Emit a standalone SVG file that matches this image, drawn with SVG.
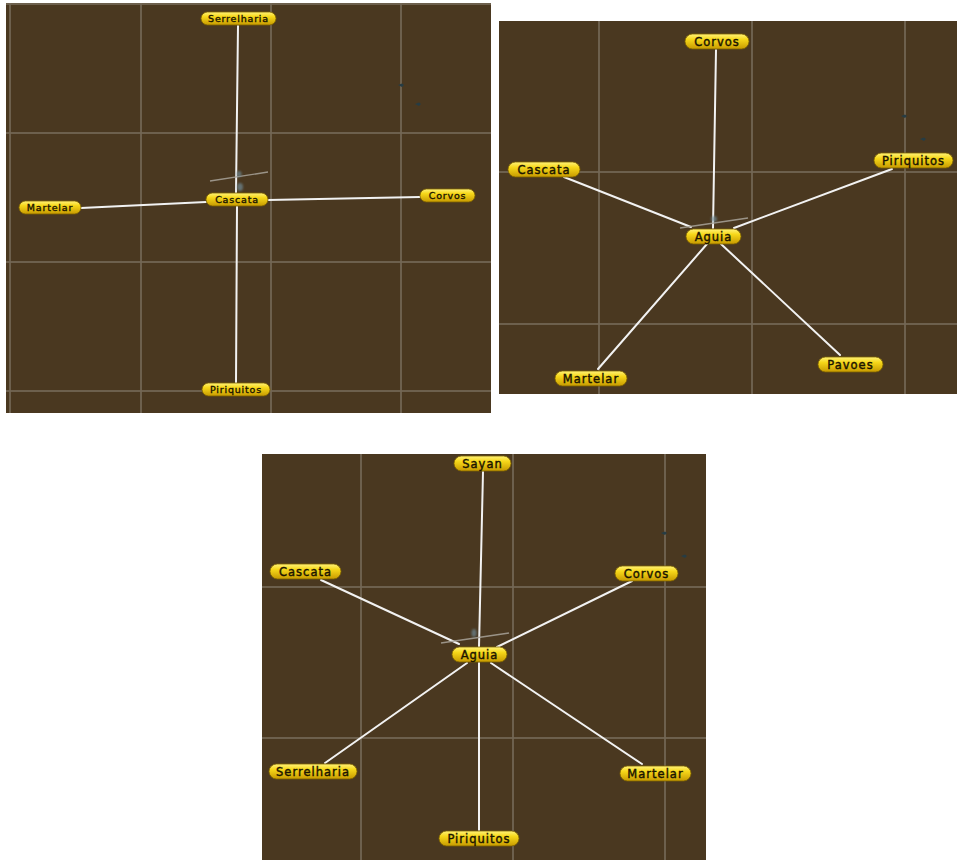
<svg xmlns="http://www.w3.org/2000/svg" width="957" height="860" viewBox="0 0 957 860">
  <defs>
    <linearGradient id="pill" x1="0" y1="0" x2="0" y2="1">
      <stop offset="0" stop-color="#fff27a"/>
      <stop offset="0.35" stop-color="#f7d81a"/>
      <stop offset="1" stop-color="#c79a00"/>
    </linearGradient>
    <filter id="soft" x="-50%" y="-50%" width="200%" height="200%">
      <feGaussianBlur stdDeviation="1.2"/>
    </filter>
    <style>
      .panel { fill: #4a3820; }
      .grid { stroke: #746856; stroke-width: 2; opacity: 0.85; }
      .edge { stroke: #f2f2f2; stroke-width: 2; stroke-linecap: round; }
      .axis { stroke: #a9a49a; stroke-width: 1.4; opacity: 0.85; }
      .node rect { fill: url(#pill); stroke: #7d6200; stroke-width: 0.8; }
      .node text { font-family: "DejaVu Sans", "Liberation Sans", sans-serif; font-size: 11.5px; fill: #1a1400; stroke: #1a1400; stroke-width: 0.4; text-anchor: middle; letter-spacing: 1px; }
      .small text { font-size: 9.5px; letter-spacing: 0.8px; stroke-width: 0.35; }
      .blob { fill: #6f8a95; opacity: 0.7; filter: url(#soft); }
      .mark { fill: #263c44; }
    </style>
  </defs>

  <rect width="957" height="860" fill="#ffffff"/>

  <!-- ===== Panel 1: Cascata hub ===== -->
  <rect class="panel" x="6" y="3" width="485" height="410"/>
  <g id="p1-grid">
    <line class="grid" x1="6" y1="4" x2="491" y2="4"/>
    <line class="grid" x1="6" y1="133" x2="491" y2="133"/>
    <line class="grid" x1="6" y1="262" x2="491" y2="262"/>
    <line class="grid" x1="6" y1="391" x2="491" y2="391"/>
    <line class="grid" x1="10" y1="3" x2="10" y2="413"/>
    <line class="grid" x1="141" y1="3" x2="141" y2="413"/>
    <line class="grid" x1="271" y1="3" x2="271" y2="413"/>
    <line class="grid" x1="401" y1="3" x2="401" y2="413"/>
  </g>
  <g id="p1-connectors">
    <line class="edge" x1="238" y1="26" x2="236" y2="193"/>
    <line class="edge" x1="81" y1="208" x2="206" y2="202"/>
    <line class="edge" x1="268" y1="200" x2="420" y2="197"/>
    <line class="edge" x1="237" y1="206" x2="236" y2="383"/>
    <line class="axis" x1="210" y1="181" x2="268" y2="172"/>
  </g>
  <ellipse class="blob" cx="239" cy="174" rx="2.5" ry="3"/>
  <ellipse class="blob" cx="240" cy="187" rx="3" ry="4"/>
  <path class="mark" d="M398 85 l4 -1.5 l2 1.5 l-2 2 z"/>
  <path class="mark" d="M415 104 l4 -1.5 l2 1.5 l-2 2 z"/>
  <g id="p1-serrelharia" class="node small"><rect x="201" y="12" width="75" height="13" rx="6.5"/><text x="238.5" y="22">Serrelharia</text></g>
  <g id="p1-cascata" class="node small"><rect x="206" y="193" width="62" height="13" rx="6.5"/><text x="237" y="203">Cascata</text></g>
  <g id="p1-martelar" class="node small"><rect x="19" y="201" width="62" height="13" rx="6.5"/><text x="50" y="211">Martelar</text></g>
  <g id="p1-corvos" class="node small"><rect x="420" y="189" width="55" height="13" rx="6.5"/><text x="447.5" y="199">Corvos</text></g>
  <g id="p1-piriquitos" class="node small"><rect x="202" y="383" width="68" height="13" rx="6.5"/><text x="236" y="393">Piriquitos</text></g>

  <!-- ===== Panel 2: Aguia hub, five spokes ===== -->
  <rect class="panel" x="499" y="21" width="458" height="373"/>
  <g id="p2-grid">
    <line class="grid" x1="499" y1="172" x2="957" y2="172"/>
    <line class="grid" x1="499" y1="324" x2="957" y2="324"/>
    <line class="grid" x1="599" y1="21" x2="599" y2="394"/>
    <line class="grid" x1="752" y1="21" x2="752" y2="394"/>
    <line class="grid" x1="905" y1="21" x2="905" y2="394"/>
  </g>
  <g id="p2-connectors">
    <line class="edge" x1="716" y1="50" x2="713" y2="228"/>
    <line class="edge" x1="564" y1="177" x2="691" y2="227"/>
    <line class="edge" x1="892" y1="169" x2="734" y2="228"/>
    <line class="edge" x1="707" y1="244" x2="598" y2="369"/>
    <line class="edge" x1="721" y1="244" x2="840" y2="355"/>
    <line class="axis" x1="680" y1="228" x2="748" y2="218"/>
  </g>
  <ellipse class="blob" cx="714" cy="219" rx="3" ry="3"/>
  <path class="mark" d="M901 116 l4 -1.5 l2 1.5 l-2 2 z"/>
  <path class="mark" d="M920 139 l4 -1.5 l2 1.5 l-2 2 z"/>
  <g id="p2-corvos" class="node"><rect x="685" y="34" width="64" height="15" rx="7.5"/><text x="717" y="46">Corvos</text></g>
  <g id="p2-cascata" class="node"><rect x="508" y="162" width="72" height="15" rx="7.5"/><text x="544" y="174">Cascata</text></g>
  <g id="p2-piriquitos" class="node"><rect x="874" y="153" width="79" height="15" rx="7.5"/><text x="913.5" y="165">Piriquitos</text></g>
  <g id="p2-aguia" class="node"><rect x="686" y="229" width="55" height="15" rx="7.5"/><text x="713.5" y="241">Aguia</text></g>
  <g id="p2-martelar" class="node"><rect x="555" y="371" width="72" height="15" rx="7.5"/><text x="591" y="383">Martelar</text></g>
  <g id="p2-pavoes" class="node"><rect x="818" y="357" width="65" height="15" rx="7.5"/><text x="850.5" y="369">Pavoes</text></g>

  <!-- ===== Panel 3: Aguia hub, six spokes ===== -->
  <rect class="panel" x="262" y="454" width="444" height="406"/>
  <g id="p3-grid">
    <line class="grid" x1="262" y1="587" x2="706" y2="587"/>
    <line class="grid" x1="262" y1="738" x2="706" y2="738"/>
    <line class="grid" x1="361" y1="454" x2="361" y2="860"/>
    <line class="grid" x1="513" y1="454" x2="513" y2="860"/>
    <line class="grid" x1="665" y1="454" x2="665" y2="860"/>
  </g>
  <g id="p3-connectors">
    <line class="edge" x1="483" y1="472" x2="479" y2="647"/>
    <line class="edge" x1="321" y1="580" x2="459" y2="644"/>
    <line class="edge" x1="632" y1="581" x2="497" y2="647"/>
    <line class="edge" x1="467" y1="663" x2="325" y2="763"/>
    <line class="edge" x1="479" y1="663" x2="479" y2="830"/>
    <line class="edge" x1="491" y1="663" x2="642" y2="764"/>
    <line class="axis" x1="441" y1="643" x2="509" y2="633"/>
  </g>
  <ellipse class="blob" cx="474" cy="633" rx="2.5" ry="4"/>
  <path class="mark" d="M661 533 l4 -1.5 l2 1.5 l-2 2 z"/>
  <path class="mark" d="M681 556 l4 -1.5 l2 1.5 l-2 2 z"/>
  <g id="p3-sayan" class="node"><rect x="454" y="456" width="57" height="15" rx="7.5"/><text x="482.5" y="468">Sayan</text></g>
  <g id="p3-cascata" class="node"><rect x="270" y="564" width="71" height="15" rx="7.5"/><text x="305.5" y="576">Cascata</text></g>
  <g id="p3-corvos" class="node"><rect x="615" y="566" width="63" height="15" rx="7.5"/><text x="646.5" y="578">Corvos</text></g>
  <g id="p3-aguia" class="node"><rect x="452" y="647" width="55" height="15" rx="7.5"/><text x="479.5" y="659">Aguia</text></g>
  <g id="p3-serrelharia" class="node"><rect x="269" y="764" width="88" height="15" rx="7.5"/><text x="313" y="776">Serrelharia</text></g>
  <g id="p3-martelar" class="node"><rect x="620" y="766" width="71" height="15" rx="7.5"/><text x="655.5" y="778">Martelar</text></g>
  <g id="p3-piriquitos" class="node"><rect x="439" y="831" width="80" height="15" rx="7.5"/><text x="479" y="843">Piriquitos</text></g>
</svg>
